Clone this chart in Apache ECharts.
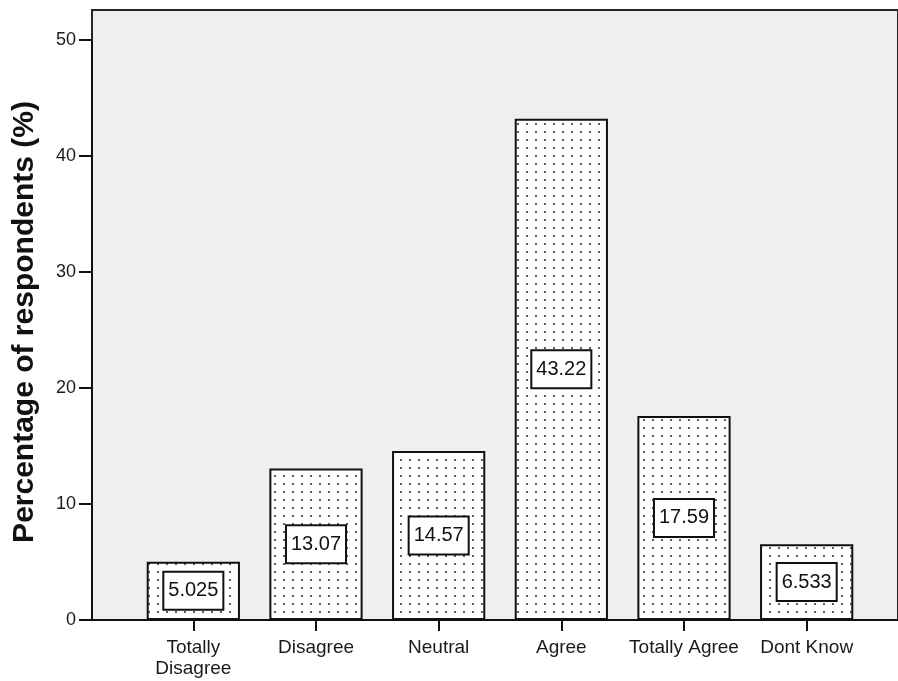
<!DOCTYPE html>
<html>
<head>
<meta charset="utf-8">
<script src="https://cdn.jsdelivr.net/npm/echarts@6/dist/echarts.min.js"></script>
<style>
  html, body { margin: 0; padding: 0; background: #ffffff; }
  #chart { width: 898px; height: 681px; }
</style>
</head>
<body>
<div id="chart"></div>
<script>
// Survey responses: share of respondents per answer
const categories = ['Totally\nDisagree', 'Disagree', 'Neutral', 'Agree', 'Totally Agree', 'Dont Know'];
const percentages = [5.025, 13.07, 14.57, 43.22, 17.59, 6.533];
const yTicks = [0, 10, 20, 30, 40, 50];
const yTitle = 'Percentage of respondents (%)';

const FONT = 'Arial, "Liberation Sans", sans-serif';

// Dotted fill for the bars: white tile with a small grey dot
function dotPattern() {
  const c = document.createElement('canvas');
  c.width = 9; c.height = 8;
  const ctx = c.getContext('2d');
  ctx.fillStyle = '#ffffff';
  ctx.fillRect(0, 0, 9, 8);
  ctx.fillStyle = '#5e5e5e';
  ctx.fillRect(4, 3, 2, 2);
  return c;
}

const chart = echarts.init(document.getElementById('chart'), null, { renderer: 'canvas' });

chart.setOption({
  animation: false,
  backgroundColor: '#ffffff',
  grid: [
    // plot frame with grey background
    { left: 92, right: -3, top: 10, bottom: 61, show: true,
      backgroundColor: '#efefef', borderColor: '#262626', borderWidth: 2, z: 0 },
    // bar area
    { left: 132, right: 30, top: 40, bottom: 61 }
  ],
  xAxis: [
    { gridIndex: 0, type: 'value', min: 0, max: 1,
      axisLine: { show: true, lineStyle: { color: '#111', width: 2 } },
      axisTick: { show: false }, axisLabel: { show: false }, splitLine: { show: false } },
    { gridIndex: 1, type: 'category', data: categories,
      axisLine: { show: false },
      axisTick: { show: true, alignWithLabel: true, length: 11, lineStyle: { color: '#111', width: 2 } },
      axisLabel: { color: '#1a1a1a', fontFamily: FONT, fontSize: 19, lineHeight: 21, margin: 17, interval: 0 },
      splitLine: { show: false } }
  ],
  yAxis: [
    { gridIndex: 0, type: 'value', min: 0, max: 1, show: false },
    { gridIndex: 1, type: 'value', min: yTicks[0], max: yTicks[yTicks.length - 1], interval: 10,
      offset: 40,
      axisLine: { show: true, lineStyle: { color: '#111', width: 2 } },
      axisTick: { show: true, length: 13, lineStyle: { color: '#111', width: 2 } },
      axisLabel: { color: '#1a1a1a', fontFamily: FONT, fontSize: 18, margin: 16 },
      splitLine: { show: false },
      name: yTitle, nameLocation: 'middle', nameGap: 52, nameRotate: 90,
      nameTextStyle: { fontFamily: FONT, fontSize: 30, fontWeight: 'bold', color: '#111',
        padding: [0, 0, 0, 16] } }
  ],
  series: [{
    type: 'bar',
    xAxisIndex: 1, yAxisIndex: 1,
    data: percentages,
    barWidth: '76%',
    itemStyle: {
      color: { image: dotPattern(), repeat: 'repeat' },
      borderColor: '#111', borderWidth: 2
    },
    label: {
      show: true, position: 'inside',
      fontFamily: FONT, fontSize: 20, lineHeight: 24, color: '#111',
      backgroundColor: '#ffffff', borderColor: '#111', borderWidth: 2,
      padding: [6, 4]
    }
  }]
});
</script>
</body>
</html>
